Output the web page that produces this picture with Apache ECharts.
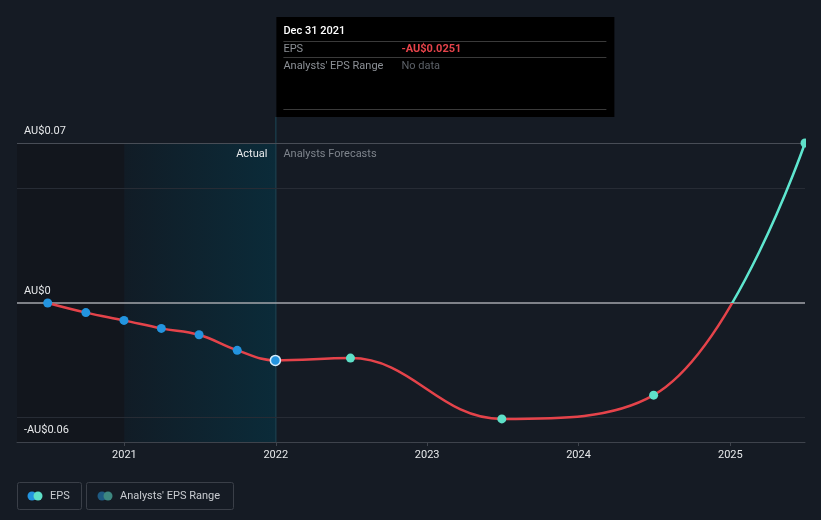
<!DOCTYPE html>
<html>
<head>
<meta charset="utf-8">
<script src="https://cdn.jsdelivr.net/npm/echarts@6/dist/echarts.min.js"></script>
<style>html,body{margin:0;padding:0;background:#151b24;}#c{width:821px;height:520px;}</style>
</head>
<body>
<div id="c"></div>
<script>
// ---- data ----
var actualDates = ['2020-06-30','2020-09-30','2020-12-31','2021-03-31','2021-06-30','2021-09-30','2021-12-31'];
var actualEps   = [0.0000, -0.0042, -0.0076, -0.0111, -0.0139, -0.0207, -0.0251];
var forecastDates = ['2021-12-31','2022-06-30','2023-06-30','2024-06-30','2025-06-30'];
var forecastEps   = [-0.0251, -0.0241, -0.0507, -0.0403, 0.0700];
var yearTicks = ['2021-01-01','2022-01-01','2023-01-01','2024-01-01','2025-01-01'];
var yTickValues = [0.07, 0, -0.06];
var yTickLabels = ['AU$0.07', 'AU$0', '-AU$0.06'];
var minorGridValues = [0.05, -0.05];
var xMin = '2020-04-17', xMax = '2025-06-30', yMin = -0.0608, yMax = 0.07;
var tooltipDate = '2021-12-31';
var tooltipTitle = 'Dec 31 2021';
var tooltipEps = '-AU$0.0251';

function ts(s){ return new Date(s + 'T00:00:00Z').getTime(); }
var lineData = actualDates.map(function(d,i){return [ts(d), actualEps[i]];})
  .concat(forecastDates.slice(1).map(function(d,i){return [ts(d), forecastEps[i+1]];}));
var actualPts = actualDates.slice(0,-1).map(function(d,i){return [ts(d), actualEps[i]];});
var lastActual = [[ts(actualDates[actualDates.length-1]), actualEps[actualEps.length-1]]];
var fcPts = forecastDates.slice(1).map(function(d,i){return [ts(d), forecastEps[i+1]];});

var FONT = 'Roboto, "Noto Sans", sans-serif';
var RED = '#e5434a', TEAL = '#5ee6cf';
var chart = echarts.init(document.getElementById('c'), null, {renderer:'canvas'});
var grid = {left:17, right:16, top:143, bottom:78};
chart.setOption({
  backgroundColor:'#151b24',
  animation:false,
  grid:grid,
  xAxis:{
    type:'value', min:ts(xMin), max:ts(xMax), scale:true,
    axisLine:{show:true, onZero:false, lineStyle:{color:'#3e434c', width:1}},
    axisTick:{show:true, length:4, lineStyle:{color:'#3e434c'}, customValues: yearTicks.map(ts)},
    axisLabel:{color:'#e6e8ea', fontSize:11, fontFamily:FONT, margin:8,
      customValues: yearTicks.map(ts),
      formatter:function(v){return String(new Date(v).getUTCFullYear());}},
    splitLine:{show:false}
  },
  yAxis:{
    type:'value', min:yMin, max:yMax,
    axisLine:{show:false}, axisTick:{show:false}, axisLabel:{show:false}, splitLine:{show:false}
  },
  series:[
    {
      type:'line', data:lineData, smooth:0.4, showSymbol:false,
      lineStyle:{width:2.5, color:RED}, z:5,
      markArea:{
        silent:true,
        data:[
          [{xAxis:ts(xMin), itemStyle:{color:'#12161d'}},{xAxis:ts(yearTicks[0])}],
          [{xAxis:ts(yearTicks[0]), itemStyle:{color:{type:'linear',x:0,y:0,x2:1,y2:0,colorStops:[{offset:0,color:'#111c26'},{offset:1,color:'#0b2b39'}]}}},{xAxis:ts(tooltipDate)}]
        ]
      },
      markLine:{
        silent:true, symbol:'none', label:{show:false},
        data:[
          {yAxis:yTickValues[0], lineStyle:{color:'#484d56', width:1, type:'solid'}},
          {yAxis:minorGridValues[0], lineStyle:{color:'#272c35', width:1, type:'solid'}},
          {yAxis:minorGridValues[1], lineStyle:{color:'#272c35', width:1, type:'solid'}},
          {yAxis:yTickValues[1], lineStyle:{color:'#a3a6ab', width:1.5, type:'solid'}}
        ]
      }
    },
    {type:'scatter', data:actualPts, symbolSize:9, itemStyle:{color:'#2394df', opacity:1}, z:6},
    {type:'scatter', data:fcPts, symbolSize:9, itemStyle:{color:'#5ee0c8', opacity:1}, z:6},
    {type:'scatter', data:lastActual, symbolSize:10, itemStyle:{color:'#2394df', opacity:1, borderColor:'#d8eefc', borderWidth:1.5}, z:7}
  ]
});

// decorations positioned from the axes
var cx = chart.convertToPixel({xAxisIndex:0}, ts(tooltipDate));
var xRight = chart.convertToPixel({xAxisIndex:0}, ts(xMax));
var yTop = chart.convertToPixel({yAxisIndex:0}, yMax);
var yBot = chart.convertToPixel({yAxisIndex:0}, yMin);
var yZero = chart.convertToPixel({yAxisIndex:0}, 0);
var zf = (yZero - yTop) / (yBot - yTop);
chart.setOption({series:[{lineStyle:{color:{type:'linear', x:0, y:yTop, x2:0, y2:yBot, global:true,
  colorStops:[{offset:0,color:TEAL},{offset:zf,color:TEAL},{offset:zf,color:RED},{offset:1,color:RED}]}}}]});

var gfx = [];
// cover the part of the end marker that lies beyond the plot edge
gfx.push({type:'rect', shape:{x:xRight+1, y:yTop-8, width:10, height:16}, style:{fill:'#151b24'}, z:30});
gfx.push({type:'line', shape:{x1:cx+0.5, y1:117, x2:cx+0.5, y2:yBot}, style:{stroke:'#1c4858', lineWidth:1}, z:3});
yTickValues.forEach(function(v,i){
  var py = chart.convertToPixel({yAxisIndex:0}, v);
  if (i === yTickValues.length-1) py = yBot;
  gfx.push({type:'text', x:24, y:py-12, style:{text:yTickLabels[i], fill:'#e6e8ea', font:'11px '+FONT, verticalAlign:'middle', textAlign:'left'}, z:10});
});
gfx.push({type:'text', x:cx-8, y:yTop+11, style:{text:'Actual', fill:'#e8eaec', font:'11px '+FONT, textAlign:'right', verticalAlign:'middle'}, z:10});
gfx.push({type:'text', x:cx+8, y:yTop+11, style:{text:'Analysts Forecasts', fill:'#7e848c', font:'11px '+FONT, textAlign:'left', verticalAlign:'middle'}, z:10});
var tx = cx+1;
gfx.push({type:'rect', shape:{x:tx, y:17, width:338, height:100}, style:{fill:'#000000'}, z:20});
gfx.push({type:'text', x:tx+7, y:31, style:{text:tooltipTitle, fill:'#ffffff', font:'500 11px '+FONT, verticalAlign:'middle'}, z:21});
[41.5, 57.5, 109.5].forEach(function(ly){
  gfx.push({type:'line', shape:{x1:tx+7, y1:ly, x2:tx+330, y2:ly}, style:{stroke:'#3a3a3a', lineWidth:1}, z:21});
});
gfx.push({type:'text', x:tx+7, y:49.5, style:{text:'EPS', fill:'#8c9096', font:'11px '+FONT, verticalAlign:'middle'}, z:21});
gfx.push({type:'text', x:tx+125, y:49.5, style:{text:tooltipEps, fill:RED, font:'bold 11px '+FONT, verticalAlign:'middle'}, z:21});
gfx.push({type:'text', x:tx+7, y:66.5, style:{text:"Analysts' EPS Range", fill:'#8c9096', font:'11px '+FONT, verticalAlign:'middle'}, z:21});
gfx.push({type:'text', x:tx+125, y:66.5, style:{text:'No data', fill:'#5c6168', font:'11px '+FONT, verticalAlign:'middle'}, z:21});
gfx.push({type:'rect', shape:{x:17.5, y:482.5, width:64, height:27, r:2}, style:{fill:'none', stroke:'#3a3f48', lineWidth:1}, z:10});
gfx.push({type:'circle', shape:{cx:32, cy:496, r:4.5}, style:{fill:'#2394df'}, z:11});
gfx.push({type:'circle', shape:{cx:38, cy:496, r:4.5}, style:{fill:'#5ee0c8'}, z:12});
gfx.push({type:'text', x:50, y:496, style:{text:'EPS', fill:'#c9ccd1', font:'11px '+FONT, verticalAlign:'middle'}, z:11});
gfx.push({type:'rect', shape:{x:86.5, y:482.5, width:147, height:27, r:2}, style:{fill:'none', stroke:'#3a3f48', lineWidth:1}, z:10});
gfx.push({type:'circle', shape:{cx:102, cy:496, r:4.5}, style:{fill:'#1e5a82'}, z:11});
gfx.push({type:'circle', shape:{cx:108, cy:496, r:4.5}, style:{fill:'#3d8780'}, z:12});
gfx.push({type:'text', x:120, y:496, style:{text:"Analysts' EPS Range", fill:'#c9ccd1', font:'11px '+FONT, verticalAlign:'middle'}, z:11});
chart.setOption({graphic:gfx});
</script>
</body>
</html>
